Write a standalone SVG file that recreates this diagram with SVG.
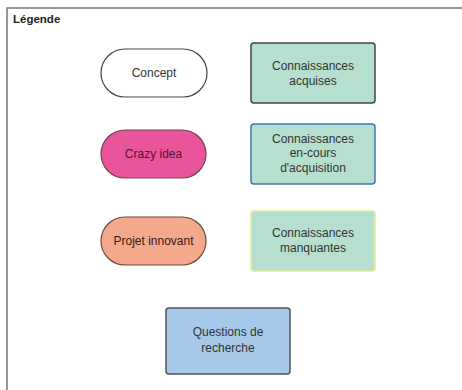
<svg xmlns="http://www.w3.org/2000/svg" width="462" height="390" viewBox="0 0 462 390">
<style>
text{font-family:"Liberation Sans",Arial,sans-serif;font-size:12px;fill:#333;text-anchor:middle}
.k{fill:#b5e0cf;stroke-width:1.5}
</style>
<rect width="462" height="390" fill="#fff"/>
<rect x="7" y="8" width="470" height="400" fill="#fff" stroke="#777" stroke-width="1.5"/>
<text x="13" y="23" style="text-anchor:start;font-weight:bold;fill:#222;font-size:11.5px">Légende</text>
<g id="concept">
<rect x="101" y="49" width="106" height="48" rx="24" fill="#fff" stroke="#444" stroke-width="1.2"/>
<text x="154" y="77">Concept</text>
</g>
<g id="acquises">
<rect class="k" x="251" y="43" width="124" height="60" rx="3" stroke="#444"/>
<text x="313" y="69.5">Connaissances</text>
<text x="313" y="84.5">acquises</text>
</g>
<g id="crazy">
<rect x="101" y="130" width="105" height="48" rx="24" fill="#e8559a" stroke="#7a4055" stroke-width="1.2"/>
<text x="153.5" y="158" style="fill:#5a1030">Crazy idea</text>
</g>
<g id="encours">
<rect class="k" x="251" y="124" width="124" height="60" rx="3" stroke="#3b78b8"/>
<text x="313" y="142.5">Connaissances</text>
<text x="313" y="157">en-cours</text>
<text x="313" y="171.5">d'acquisition</text>
</g>
<g id="projet">
<rect x="101" y="217" width="105" height="48" rx="24" fill="#f4a98c" stroke="#6a4a3c" stroke-width="1.2"/>
<text x="153.5" y="245" style="fill:#3a1a10">Projet innovant</text>
</g>
<g id="manquantes">
<rect class="k" x="251" y="211" width="124" height="60" rx="3" stroke="#e6ea98"/>
<text x="313" y="237">Connaissances</text>
<text x="313" y="251.5">manquantes</text>
</g>
<g id="questions">
<rect x="166" y="308" width="124" height="66" rx="3" fill="#a6c9e9" stroke="#555" stroke-width="1.5"/>
<text x="228" y="336">Questions de</text>
<text x="228" y="351.5">recherche</text>
</g>
<g id="connectors"/>
</svg>
